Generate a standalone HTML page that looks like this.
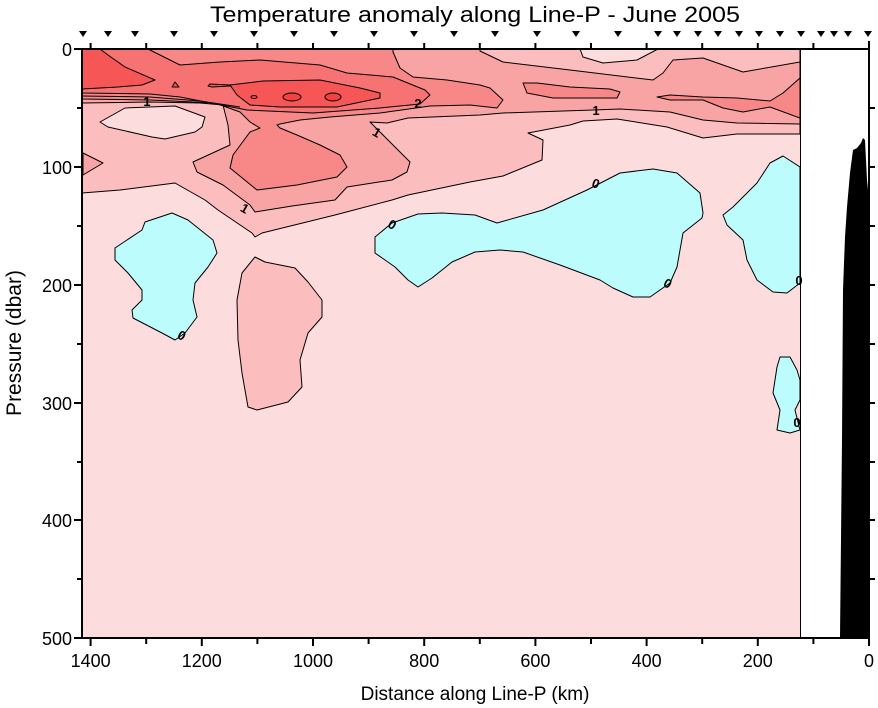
<!DOCTYPE html>
<html><head><meta charset="utf-8"><style>
html,body{margin:0;padding:0;background:#fff;}
svg{display:block;font-family:"Liberation Sans",Arial,sans-serif;}
</style></head><body>
<svg width="878" height="708" viewBox="0 0 878 708" xmlns="http://www.w3.org/2000/svg">
<defs><clipPath id="pc"><rect x="82" y="49" width="718" height="589"/></clipPath></defs>
<g clip-path="url(#pc)" stroke="#000" stroke-width="1" stroke-linejoin="round">
<rect x="82" y="49" width="718" height="589" fill="#fcdcdc" stroke="none"/>
<!-- L1 -->
<path fill="#fbbdbd" d="M82,49 L800,49 L800,134 L737,134 L703,138 L667,127 L617,119 L583,121 L570,125 L528,133 L543,140 L542,160 L503,176 L470,182 L408,195 L392,200 L335,215 L262,233 L255,237 L252,233 L218,210 L205,200 L175,183 L120,190 L82,193 Z"/>
<path fill="#fcdcdc" d="M100,122 L125,108 L175,106 L205,117 L202,127 L195,132 L165,139 L152,137 L108,127 Z"/>
<!-- L2 -->
<path fill="#f9a4a4" d="M82,49 L800,49 L800,124 L737,123 L703,120 L670,112 L620,109 L593,110 L503,113 L480,115 L408,118 L387,123 L370,122 L380,132 L410,162 L407,172 L392,180 L347,187 L335,200 L292,206 L255,212 L250,205 L223,185 L197,172 L193,162 L230,145 L228,125 L223,105 L200,103 L150,102 L82,103 Z"/>
<path fill="#f9a4a4" d="M83,153 L103,163 L83,175 Z"/>
<!-- L1 top right -->
<path fill="#fbbdbd" d="M480,49 L480,51 L503,62 L570,70 L653,80 L663,73 L673,60 L703,58 L743,72 L800,62 L800,49 Z"/>
<path fill="#fcdcdc" d="M580,49 L583,57 L603,63 L637,60 L658,49 Z"/>
<!-- L3 -->
<path fill="#f88888" d="M82,49 L393,49 L393,52 L400,68 L413,77 L447,80 L480,85 L490,88 L503,100 L497,108 L470,105 L430,106 L380,113 L330,117 L300,120 L280,124 L277,125 L280,128 L297,135 L320,145 L340,155 L347,167 L337,177 L297,185 L257,190 L230,168 L233,155 L250,132 L260,128 L250,122 L240,112 L215,103 L150,100 L82,99 Z"/>
<path fill="#f88888" d="M523,83 L537,83 L570,87 L610,89 L620,92 L617,98 L587,98 L553,98 L527,93 Z"/>
<path fill="#f88888" d="M657,97 L670,95 L703,97 L737,98 L770,101 L783,93 L800,78 L800,118 L770,107 L743,112 L723,108 L703,100 L670,100 Z"/>
<!-- L3b band -->
<path fill="#f77272" d="M82,49 L148,49 L180,65 L220,62 L260,60 L320,65 L347,73 L393,77 L425,90 L430,95 L420,104 L380,108 L313,113 L247,110 L180,97 L150,94 L82,93 Z"/>
<!-- L4 -->
<path fill="#f65656" d="M82,49 L100,49 L108,55 L125,67 L155,80 L142,85 L118,87 L82,89 Z"/>
<path fill="#f65656" d="M230,85 L263,81 L320,80 L360,88 L380,93 L380,98 L337,107 L280,107 L250,105 L237,95 Z"/>
<path fill="#f65656" d="M230,85 L210,84 L208,86 L212,87 L230,86 Z"/>
<path fill="#f65656" d="M172,87 L175,82 L179,87 Z"/>
<ellipse cx="254" cy="97" rx="3" ry="1.5" fill="#f34242"/>
<ellipse cx="292" cy="97" rx="9" ry="4" fill="#f34242"/>
<ellipse cx="333" cy="97" rx="8" ry="4" fill="#f34242"/>
<!-- stratified lines at left -->
<polyline fill="none" points="82,96 150,97 200,101 240,107"/>
<!-- L1 blob lower -->
<path fill="#fbbdbd" d="M255,257 L242,273 L237,300 L238,340 L242,373 L248,407 L257,410 L288,402 L302,387 L300,360 L308,333 L322,317 L322,300 L308,282 L295,268 L265,262 Z"/>
<!-- cyan -->
<path fill="#bdfcfc" d="M172,213 L145,222 L142,230 L115,248 L115,260 L128,273 L142,290 L142,300 L132,310 L133,318 L162,333 L175,340 L185,333 L197,317 L193,300 L195,283 L208,267 L217,253 L213,240 L188,220 Z"/>
<path fill="#bdfcfc" d="M375,237 L392,223 L418,214 L442,213 L475,215 L497,223 L543,210 L587,190 L620,173 L653,169 L677,173 L700,193 L703,213 L702,218 L683,233 L677,267 L670,283 L650,297 L633,297 L613,288 L600,280 L560,265 L523,252 L500,250 L475,252 L452,262 L432,278 L418,287 L408,280 L395,267 L375,253 Z"/>
<path fill="#bdfcfc" d="M800,167 L783,156 L770,163 L757,183 L733,207 L723,215 L727,225 L743,240 L747,260 L757,280 L773,292 L787,293 L800,283 Z"/>
<path fill="#bdfcfc" d="M780,357 L790,357 L797,370 L800,380 L800,400 L795,410 L800,430 L790,433 L777,430 L780,410 L773,393 L777,367 Z"/>
</g>
<!-- contour labels -->
<g font-size="13" font-weight="bold" fill="#000" text-anchor="middle">
<text x="147" y="106">1</text>
<text x="245" y="213" transform="rotate(30 245 208)">1</text>
<text x="377" y="137" transform="rotate(30 377 132)">1</text>
<text x="596" y="115">1</text>
<text x="418" y="108">2</text>
<text x="182" y="340" transform="rotate(30 182 335)">0</text>
<text x="392" y="229" transform="rotate(30 392 225)">0</text>
<text x="596" y="188" transform="rotate(20 596 183)">0</text>
<text x="668" y="288" transform="rotate(30 668 283)">0</text>
<text x="799" y="285">0</text>
<text x="797" y="427">0</text>
</g>
<line x1="800.5" y1="49" x2="800.5" y2="638" stroke="#000" stroke-width="1"/>
<!-- topography -->
<path fill="#000" d="M840,638 L842,440 L843,290 L845,237 L847,207 L850,173 L853,150 L857,148 L861,143 L863,138 L865,140 L867,180 L869,200 L869,638 Z"/>
<!-- frame -->
<rect x="82" y="49" width="787" height="589" fill="none" stroke="#000" stroke-width="2"/>
<g stroke="#000" stroke-width="2">
<line x1="90.6" y1="638" x2="90.6" y2="646"/><line x1="146.2" y1="638" x2="146.2" y2="644"/>
<line x1="201.8" y1="638" x2="201.8" y2="646"/><line x1="257.4" y1="638" x2="257.4" y2="644"/>
<line x1="313" y1="638" x2="313" y2="646"/><line x1="368.6" y1="638" x2="368.6" y2="644"/>
<line x1="424.2" y1="638" x2="424.2" y2="646"/><line x1="479.8" y1="638" x2="479.8" y2="644"/>
<line x1="535.4" y1="638" x2="535.4" y2="646"/><line x1="591" y1="638" x2="591" y2="644"/>
<line x1="646.6" y1="638" x2="646.6" y2="646"/><line x1="702.2" y1="638" x2="702.2" y2="644"/>
<line x1="757.8" y1="638" x2="757.8" y2="646"/><line x1="813.4" y1="638" x2="813.4" y2="644"/>
<line x1="869" y1="638" x2="869" y2="646"/>
<line x1="90.6" y1="49" x2="90.6" y2="43"/><line x1="146.2" y1="49" x2="146.2" y2="43"/>
<line x1="201.8" y1="49" x2="201.8" y2="43"/><line x1="257.4" y1="49" x2="257.4" y2="43"/>
<line x1="313" y1="49" x2="313" y2="43"/><line x1="368.6" y1="49" x2="368.6" y2="43"/>
<line x1="424.2" y1="49" x2="424.2" y2="43"/><line x1="479.8" y1="49" x2="479.8" y2="43"/>
<line x1="535.4" y1="49" x2="535.4" y2="43"/><line x1="591" y1="49" x2="591" y2="43"/>
<line x1="646.6" y1="49" x2="646.6" y2="43"/><line x1="702.2" y1="49" x2="702.2" y2="43"/>
<line x1="757.8" y1="49" x2="757.8" y2="43"/><line x1="813.4" y1="49" x2="813.4" y2="43"/>
<line x1="869" y1="49" x2="869" y2="41"/>
<line x1="82" y1="49" x2="74" y2="49"/><line x1="82" y1="108" x2="77" y2="108"/>
<line x1="82" y1="167" x2="74" y2="167"/><line x1="82" y1="226" x2="77" y2="226"/>
<line x1="82" y1="285" x2="74" y2="285"/><line x1="82" y1="344" x2="77" y2="344"/>
<line x1="82" y1="403" x2="74" y2="403"/><line x1="82" y1="462" x2="77" y2="462"/>
<line x1="82" y1="520" x2="74" y2="520"/><line x1="82" y1="579" x2="77" y2="579"/>
<line x1="82" y1="638" x2="74" y2="638"/>
<line x1="869" y1="108" x2="875" y2="108"/><line x1="869" y1="167" x2="875" y2="167"/>
<line x1="869" y1="226" x2="875" y2="226"/><line x1="869" y1="285" x2="875" y2="285"/>
<line x1="869" y1="344" x2="875" y2="344"/><line x1="869" y1="403" x2="875" y2="403"/>
<line x1="869" y1="462" x2="875" y2="462"/><line x1="869" y1="520" x2="875" y2="520"/>
<line x1="869" y1="579" x2="875" y2="579"/>
</g>
<g fill="#000">
<path d="M79,31 h8 l-4,6 z"/><path d="M104,31 h8 l-4,6 z"/><path d="M131,31 h8 l-4,6 z"/>
<path d="M170,31 h8 l-4,6 z"/><path d="M210,31 h8 l-4,6 z"/><path d="M250,31 h8 l-4,6 z"/>
<path d="M290,31 h8 l-4,6 z"/><path d="M330,31 h8 l-4,6 z"/><path d="M370,31 h8 l-4,6 z"/>
<path d="M410,31 h8 l-4,6 z"/><path d="M450,31 h8 l-4,6 z"/><path d="M491,31 h8 l-4,6 z"/>
<path d="M533,31 h8 l-4,6 z"/><path d="M572,31 h8 l-4,6 z"/><path d="M614,31 h8 l-4,6 z"/>
<path d="M654,31 h8 l-4,6 z"/><path d="M673,31 h8 l-4,6 z"/><path d="M694,31 h8 l-4,6 z"/>
<path d="M714,31 h8 l-4,6 z"/><path d="M735,31 h8 l-4,6 z"/><path d="M755,31 h8 l-4,6 z"/>
<path d="M776,31 h8 l-4,6 z"/><path d="M797,31 h8 l-4,6 z"/><path d="M817,31 h8 l-4,6 z"/>
<path d="M830,31 h8 l-4,6 z"/><path d="M844,31 h8 l-4,6 z"/><path d="M864,31 h8 l-4,6 z"/>
</g>
<text x="475" y="22" font-size="22" text-anchor="middle" textLength="530" lengthAdjust="spacingAndGlyphs">Temperature anomaly along Line-P - June 2005</text>
<g font-size="18" text-anchor="end">
<text x="72" y="56">0</text><text x="72" y="174">100</text><text x="72" y="292">200</text>
<text x="72" y="410">300</text><text x="72" y="527">400</text><text x="72" y="645">500</text>
</g>
<g font-size="18" text-anchor="middle">
<text x="90.6" y="667">1400</text><text x="201.8" y="667">1200</text><text x="313" y="667">1000</text>
<text x="424.2" y="667">800</text><text x="535.4" y="667">600</text><text x="646.6" y="667">400</text>
<text x="757.8" y="667">200</text><text x="869" y="667">0</text>
</g>
<text x="475" y="700" font-size="19" text-anchor="middle">Distance along Line-P (km)</text>
<text transform="translate(21 343) rotate(-90)" font-size="21" text-anchor="middle">Pressure (dbar)</text>
</svg>
</body></html>
